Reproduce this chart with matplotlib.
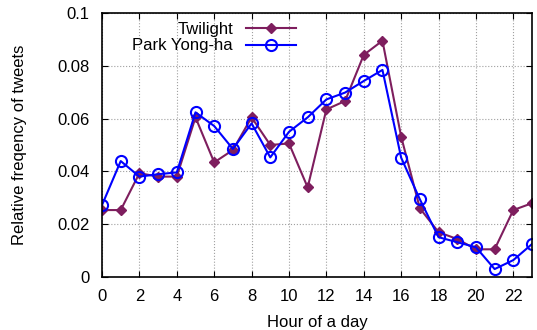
import matplotlib
matplotlib.use('Agg')
from matplotlib import pyplot as plt
import numpy as np

plt.rcParams['font.family'] = ['Liberation Sans', 'DejaVu Sans']

hours = np.arange(24)
twilight = [0.0253, 0.0253, 0.0393, 0.0380, 0.0380, 0.0605, 0.0434, 0.0481,
            0.0605, 0.0500, 0.0506, 0.0339, 0.0635, 0.0667, 0.0842, 0.0896,
            0.0532, 0.0260, 0.0169, 0.0143, 0.0104, 0.0104, 0.0253, 0.0279]
park = [0.0272, 0.0439, 0.0380, 0.0389, 0.0396, 0.0624, 0.0572, 0.0485,
        0.0582, 0.0453, 0.0550, 0.0605, 0.0673, 0.0699, 0.0743, 0.0785,
        0.0452, 0.0294, 0.0150, 0.0131, 0.0112, 0.0029, 0.0063, 0.0124]

fig = plt.figure(figsize=(5.37, 3.30), dpi=100)
ax = fig.add_axes([0.19, 0.1615, 0.8007, 0.7982])

ax.plot(hours, twilight, color='#7e1e5e', lw=1.5, marker='D', ms=5,
        label='Twilight')
ax.plot(hours, park, color='#0000ff', lw=1.5, marker='o', ms=8,
        mfc='none', mew=1.5, label='Park Yong-ha')

ax.set_xlim(0, 23)
ax.set_ylim(0, 0.1)
ax.set_xticks(range(0, 23, 2))
ax.set_yticks([0, 0.02, 0.04, 0.06, 0.08, 0.1])
ax.set_yticklabels(['0', '0.02', '0.04', '0.06', '0.08', '0.1'])
ax.grid(True, color='#a0a0a0', ls=':', lw=0.8)
ax.tick_params(direction='in', top=True, right=True, labelsize=12, length=4)
ax.tick_params(axis='y', pad=9)
ax.tick_params(axis='x', pad=9)
for s in ax.spines.values():
    s.set_linewidth(1.2)

ax.set_xlabel('Hour of a day', fontsize=12, labelpad=8)
ax.set_ylabel('Relative freqency of tweets', fontsize=12, labelpad=22)

leg = ax.legend(loc='upper right', bbox_to_anchor=(0.487, 1.025), frameon=False,
                markerfirst=False, fontsize=12, handlelength=3,
                labelspacing=0.1, handletextpad=0.8)
for t in leg.get_texts():
    t.set_ha('right')
leg._legend_box.align = 'right'

fig.savefig('out.png', dpi=100)
